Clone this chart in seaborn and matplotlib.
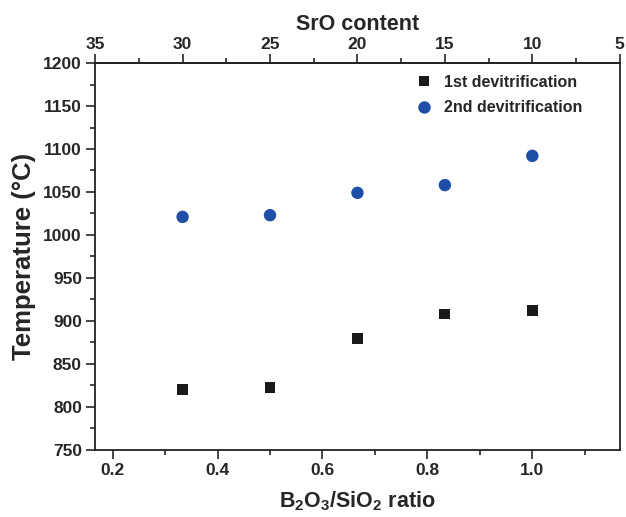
import pandas as pd
import matplotlib
matplotlib.use('Agg')
import matplotlib.pyplot as plt
from matplotlib.ticker import MultipleLocator, FixedLocator
import seaborn as sns

# B2O3/SiO2 ratio and the matching SrO content (mol%)
ratio = [1/3, 1/2, 2/3, 5/6, 1.0]
sro = [30, 25, 20, 15, 10]
sro_ticks = [35, 30, 25, 20, 15, 10, 5]
t_first = [820, 822, 879, 908, 912]
t_second = [1021, 1023, 1049, 1058, 1092]

df = pd.DataFrame({'ratio': ratio * 2,
                   'T': t_first + t_second,
                   'series': ['1st devitrification'] * 5 + ['2nd devitrification'] * 5})

sns.set_theme(style='ticks')
plt.rcParams['font.family'] = ['Liberation Sans', 'DejaVu Sans']
plt.rcParams['font.weight'] = 'bold'
plt.rcParams['mathtext.fontset'] = 'custom'
plt.rcParams['mathtext.bf'] = 'Liberation Sans:bold'
plt.rcParams['mathtext.rm'] = 'Liberation Sans:bold'

fig = plt.figure(figsize=(6.26, 5.17), dpi=100)
ax = fig.add_axes([0.152, 0.130, 0.838, 0.748])

sns.scatterplot(data=df, x='ratio', y='T', hue='series', style='series', size='series',
                palette={'1st devitrification': '#1a1a1a', '2nd devitrification': '#1f4ea6'},
                markers={'1st devitrification': 's', '2nd devitrification': 'o'},
                sizes={'1st devitrification': 62, '2nd devitrification': 80},
                linewidth=0, ax=ax)

ax.set_xlim(1/6, 7/6)
ax.set_ylim(750, 1200)
ax.xaxis.set_major_locator(MultipleLocator(0.2))
ax.xaxis.set_minor_locator(MultipleLocator(0.1))
ax.yaxis.set_major_locator(MultipleLocator(50))
ax.yaxis.set_minor_locator(MultipleLocator(25))
ax.tick_params(which='both', direction='out', width=1.2, labelsize=12.5, pad=3)
ax.tick_params(which='major', length=6.5)
ax.tick_params(which='minor', length=3.6)
for sp in ax.spines.values():
    sp.set_linewidth(1.3)
    sp.set_color('#222222')

ax.set_xlabel(r'B$_\mathbf{2}$O$_\mathbf{3}$/SiO$_\mathbf{2}$ ratio', fontsize=15.5, fontweight='bold', labelpad=8)
ax.set_ylabel('Temperature (°C)', fontsize=18.5, fontweight='bold', labelpad=5)

top = ax.secondary_xaxis('top', functions=(lambda r: 40 - 30 * r, lambda s: (40 - s) / 30))
top.xaxis.set_major_locator(FixedLocator(sro_ticks))
top.xaxis.set_minor_locator(MultipleLocator(2.5))
top.tick_params(which='both', direction='out', width=1.2, labelsize=12.5, pad=1.5)
top.tick_params(which='major', length=6.5)
top.tick_params(which='minor', length=3.6)
top.set_xlabel('SrO content', fontsize=15.5, fontweight='bold', labelpad=5)

leg = ax.legend(loc='upper left', bbox_to_anchor=(0.611, 0.970), frameon=False,
                borderaxespad=0, borderpad=0, fontsize=11.5, handlelength=1.0,
                handletextpad=0.8, labelspacing=0.66)
for t in leg.get_texts():
    t.set_fontweight('bold')

fig.savefig('out.png', dpi=100)
